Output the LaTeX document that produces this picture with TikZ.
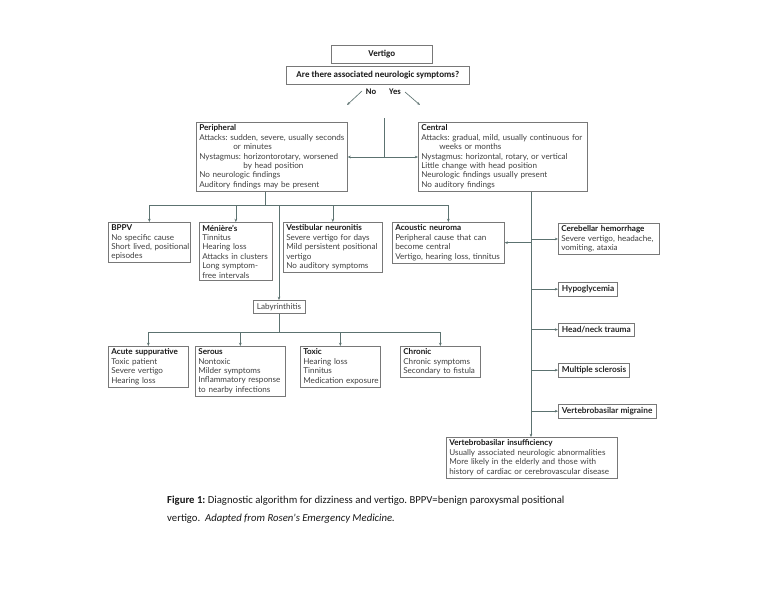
\documentclass[tikz,border=0pt]{standalone}
\usepackage{fontspec}
\setmainfont{Lato}
\newfontfamily\calfont{Carlito}
\usetikzlibrary{arrows.meta}
\definecolor{lnc}{RGB}{92,114,112}
\definecolor{bxc}{RGB}{120,120,120}
\newcommand\bl[1]{\mbox{#1}}
\begin{document}
\frenchspacing
\begin{tikzpicture}[x=1pt,y=-1pt,
 box/.style={draw=bxc, line width=0.65pt, anchor=north west, align=left, inner xsep=3pt, inner ysep=2.5pt, font=\fontsize{8.1}{9.4}\selectfont, text=black!75},
 sbox/.style={draw=bxc, line width=0.65pt, anchor=north west, inner xsep=3.5pt, inner ysep=3pt, font=\bfseries\fontsize{8.3}{9}\selectfont, text=black!85},
 topbox/.style={draw=bxc, line width=0.65pt, font=\calfont\bfseries\fontsize{9}{10}\selectfont, text=black!90},
 conn/.style={draw=lnc, line width=0.65pt},
 arr/.style={conn, -{Stealth[length=3.2pt,width=2.6pt]}},
]
\fill[white] (0,0) rectangle (768,594);
\useasboundingbox (0,0) rectangle (768,594);

% top boxes
\node[topbox, minimum width=101pt, minimum height=18pt, anchor=north west] (vert) at (331,45) {Vertigo};
\node[topbox, minimum width=183pt, minimum height=18pt, anchor=north west] (quest) at (286,66) {Are there associated neurologic symptoms?};
\node[font=\calfont\bfseries\fontsize{8.6}{9}\selectfont, text=black!90, inner sep=0pt] (no) at (371,92) {No};
\node[font=\calfont\bfseries\fontsize{8.6}{9}\selectfont, text=black!90, inner sep=0pt] (yes) at (395,92) {Yes};
\coordinate (noa) at (362,91);
\coordinate (nob) at (347,105);
\coordinate (yesa) at (405,92);
\coordinate (yesb) at (420,105);
\draw[arr] (noa) -- (nob);
\draw[arr] (yesa) -- (yesb);

% peripheral / central
\node[box, text width=145pt] (periph) at (196,122) {\textbf{\color{black!90}Peripheral}\\
\bl{Attacks: sudden, severe, usually seconds}\\
\hspace*{34pt}or minutes\\
\bl{Nystagmus: horizontorotary, worsened}\\
\hspace*{44pt}by head position\\
No neurologic findings\\
Auditory findings may be present};
\node[box, text width=163pt] (central) at (418,122) {\textbf{\color{black!90}Central}\\
\bl{Attacks: gradual, mild, usually continuous for}\\
\hspace*{18pt}weeks or months\\
\bl{Nystagmus: horizontal, rotary, or vertical}\\
Little change with head position\\
Neurologic findings usually present\\
No auditory findings};

\coordinate (ttop) at (384,118);
\coordinate (tj) at (384,157);
\draw[conn] (ttop) -- (tj);
\draw[arr] (tj) -- (periph.east |- tj);
\draw[arr] (tj) -- (central.west |- tj);

% peripheral children
\node[box, text width=76pt] (bppv) at (108,222) {\textbf{\color{black!90}BPPV}\\
\bl{No specific cause}\\
\bl{Short lived, positional}\\
episodes};
\node[box, text width=67pt] (men) at (199,222) {\textbf{\color{black!90}Ménière's}\\
Tinnitus\\
Hearing loss\\
\bl{Attacks in clusters}\\
Long symptom-\\
free intervals};
\node[box, text width=93pt] (vest) at (283,222) {\textbf{\color{black!90}\bl{Vestibular neuronitis}}\\
\bl{Severe vertigo for days}\\
\bl{Mild persistent positional}\\
vertigo\\
\bl{No auditory symptoms}};
\node[box, text width=106pt] (acou) at (392,222) {\textbf{\color{black!90}Acoustic neuroma}\\
\bl{Peripheral cause that can}\\
become central\\
\bl{Vertigo, hearing loss, tinnitus}};

\coordinate (pj) at (265,205);
\draw[conn] (periph.south -| pj) -- (pj);
\draw[conn] (bppv.north |- pj) -- (acou.north |- pj);
\draw[arr] (bppv.north |- pj) -- (bppv.north);
\draw[arr] (men.north |- pj) -- (men.north);
\draw[arr] (vest.north |- pj) -- (vest.north);
\draw[arr] (acou.north |- pj) -- (acou.north);

% labyrinthitis
\node[box, anchor=north, inner xsep=4pt, inner ysep=3pt] (lab) at (279,300) {Labyrinthitis};
\draw[arr] (lab.north |- pj) -- (lab.north);

\node[box, text width=74pt] (acute) at (108,346) {\textbf{\color{black!90}\bl{Acute suppurative}}\\
Toxic patient\\
Severe vertigo\\
Hearing loss};
\node[box, text width=84pt] (serous) at (195,346) {\textbf{\color{black!90}Serous}\\
Nontoxic\\
\bl{Milder symptoms}\\
\bl{Inflammatory response}\\
\bl{to nearby infections}};
\node[box, text width=74pt] (toxic) at (300,346) {\textbf{\color{black!90}Toxic}\\
Hearing loss\\
Tinnitus\\
\bl{Medication exposure}};
\node[box, text width=74pt] (chron) at (400,346) {\textbf{\color{black!90}Chronic}\\
\bl{Chronic symptoms}\\
\bl{Secondary to fistula}};

\coordinate (lj) at (279,332);
\draw[conn] (lab.south) -- (lj);
\draw[conn] (acute.north |- lj) -- (chron.north |- lj);
\draw[arr] (acute.north |- lj) -- (acute.north);
\draw[arr] (serous.north |- lj) -- (serous.north);
\draw[arr] (toxic.north |- lj) -- (toxic.north);
\draw[arr] (chron.north |- lj) -- (chron.north);

% central children
\coordinate (cx) at (531,0);
\node[box, text width=95pt] (cereb) at (558,223) {\textbf{\color{black!90}\bl{Cerebellar hemorrhage}}\\
\bl{Severe vertigo, headache,}\\
vomiting, ataxia};
\node[sbox] (hypo) at (558,282) {Hypoglycemia};
\node[sbox] (head) at (558,323) {Head/neck trauma};
\node[sbox] (ms) at (558,363) {Multiple sclerosis};
\node[sbox] (vbm) at (558,404) {Vertebrobasilar migraine};
\node[box, text width=165pt] (vbi) at (446,437) {\textbf{\color{black!90}Vertebrobasilar insufficiency}\\
\bl{Usually associated neurologic abnormalities}\\
\bl{More likely in the elderly and those with}\\
\bl{history of cardiac or cerebrovascular disease}};

\draw[arr] (central.south -| cx) -- (vbi.north -| cx);
\draw[arr] (acou.east -| cx) -- (acou.east);
\draw[arr] (cereb.west -| cx) -- (cereb.west);
\draw[arr] (hypo.west -| cx) -- (hypo.west);
\draw[arr] (head.west -| cx) -- (head.west);
\draw[arr] (ms.west -| cx) -- (ms.west);
\draw[arr] (vbm.west -| cx) -- (vbm.west);

% caption
\node[anchor=base west, inner sep=0pt, font=\calfont\fontsize{10.7}{13}\selectfont, text=black!90] (cap1) at (167,503) {\textbf{Figure 1:} Diagnostic algorithm for dizziness and vertigo. BPPV=benign paroxysmal positional};
\node[anchor=base west, inner sep=0pt, font=\calfont\fontsize{10.7}{13}\selectfont, text=black!90] (cap2) at (167,521) {vertigo.~~\textit{Adapted from Rosen's Emergency Medicine.}};
\end{tikzpicture}
\end{document}
